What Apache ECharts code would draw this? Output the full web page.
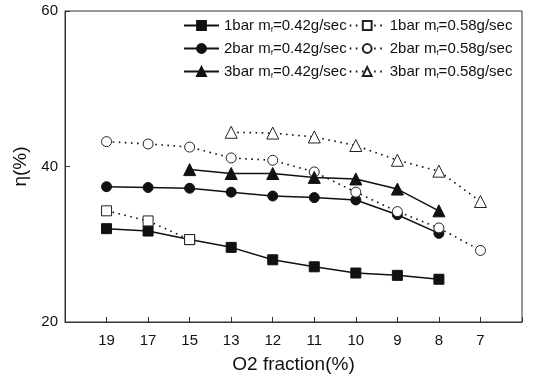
<!DOCTYPE html>
<html>
<head>
<meta charset="utf-8">
<script src="https://cdn.jsdelivr.net/npm/echarts@6/dist/echarts.min.js"></script>
<style>
  html, body { margin: 0; padding: 0; background: #fff; }
  #chart { width: 534px; height: 380px; }
</style>
</head>
<body>
<div id="chart"></div>
<script>
// O2 fraction categories (x axis)
const categories = ['19', '17', '15', '13', '12', '11', '10', '9', '8', '7']
const yTicks = [20, 40, 60]

// efficiency η(%), null where no point
const bar1Low = [32.0, 31.7, 30.6, 29.6, 28.0, 27.1, 26.3, 26.0, 25.5, null]
const bar1High = [34.3, 33.0, 30.6, null, null, null, null, null, null, null]
const bar2Low = [37.4, 37.3, 37.2, 36.7, 36.2, 36.0, 35.7, 33.8, 31.4, null]
const bar2High = [43.2, 42.9, 42.5, 41.1, 40.8, 39.3, 36.7, 34.2, 32.1, 29.2]
const bar3Low = [null, null, 39.6, 39.1, 39.1, 38.6, 38.4, 37.1, 34.3, null]
const bar3High = [null, null, null, 44.4, 44.3, 43.8, 42.7, 40.8, 39.4, 35.5]

const FONT = '"Liberation Sans", Arial, sans-serif'
// blank slot on each side so the axis spans 11 steps
const pad = arr => [null, ...arr, null]
const xData = pad(categories).map(c => c === null ? '' : c)

const mkSeries = (name, data, symbol, size, filled) => ({
  name,
  type: 'line',
  data: pad(data),
  symbol,
  symbolSize: size,
  showSymbol: true,
  lineStyle: filled
    ? { color: '#111', width: 1.5, type: 'solid' }
    : { color: '#111', width: 1.6, type: [1.6, 4.5] },
  itemStyle: filled
    ? { color: '#111', borderColor: '#111', borderWidth: 1 }
    : { color: '#fff', borderColor: '#222', borderWidth: 1 },
  emphasis: { disabled: true }
})

const names = [
  '1bar mf=0.42g/sec', '1bar mf=0.58g/sec',
  '2bar mf=0.42g/sec', '2bar mf=0.58g/sec',
  '3bar mf=0.42g/sec', '3bar mf=0.58g/sec'
]

const legendRow = (pair, top) => ({
  data: pair,
  left: 183,
  top,
  padding: 0,
  itemWidth: 35,
  itemHeight: 11,
  itemGap: 2,
  selectedMode: false,
  formatter: n => n.replace('mf', 'm{sub|f}'),
  textStyle: {
    fontFamily: FONT,
    fontSize: 15,
    color: '#111',
    rich: { sub: { fontFamily: FONT, fontSize: 8, color: '#111', padding: [8, 0, 0, 0] } }
  }
})

const chart = echarts.init(document.getElementById('chart'))
chart.setOption({
  animation: false,
  grid: {
    left: 65, right: 12, top: 11, bottom: 58,
    show: true, borderColor: '#333', borderWidth: 1
  },
  legend: [
    legendRow([names[0], names[1]], 18),
    legendRow([names[2], names[3]], 41),
    legendRow([names[4], names[5]], 64)
  ],
  xAxis: {
    type: 'category',
    data: xData,
    boundaryGap: false,
    name: 'O2 fraction(%)',
    nameLocation: 'middle',
    nameGap: 33,
    nameTextStyle: { fontFamily: FONT, fontSize: 19, color: '#111' },
    axisLine: { lineStyle: { color: '#333', width: 1 } },
    axisTick: { inside: true, length: 5, interval: 0, lineStyle: { color: '#333' } },
    axisLabel: { fontFamily: FONT, fontSize: 15, color: '#111', margin: 11, interval: 0 },
    splitLine: { show: false }
  },
  yAxis: {
    type: 'value',
    min: yTicks[0],
    max: yTicks[yTicks.length - 1],
    interval: yTicks[1] - yTicks[0],
    name: 'η(%)',
    nameLocation: 'middle',
    nameGap: 31,
    nameRotate: 90,
    nameTextStyle: { fontFamily: FONT, fontSize: 19, color: '#111' },
    axisLine: { show: true, lineStyle: { color: '#333', width: 1 } },
    axisTick: { show: true, inside: true, length: 5, lineStyle: { color: '#333' } },
    axisLabel: { fontFamily: FONT, fontSize: 15, color: '#111', margin: 7 },
    splitLine: { show: false }
  },
  series: [
    mkSeries(names[0], bar1Low, 'rect', 10, true),
    mkSeries(names[1], bar1High, 'rect', 10, false),
    mkSeries(names[2], bar2Low, 'circle', 10, true),
    mkSeries(names[3], bar2High, 'circle', 10, false),
    mkSeries(names[4], bar3Low, 'triangle', 12, true),
    mkSeries(names[5], bar3High, 'triangle', 12, false)
  ]
})
</script>
</body>
</html>
